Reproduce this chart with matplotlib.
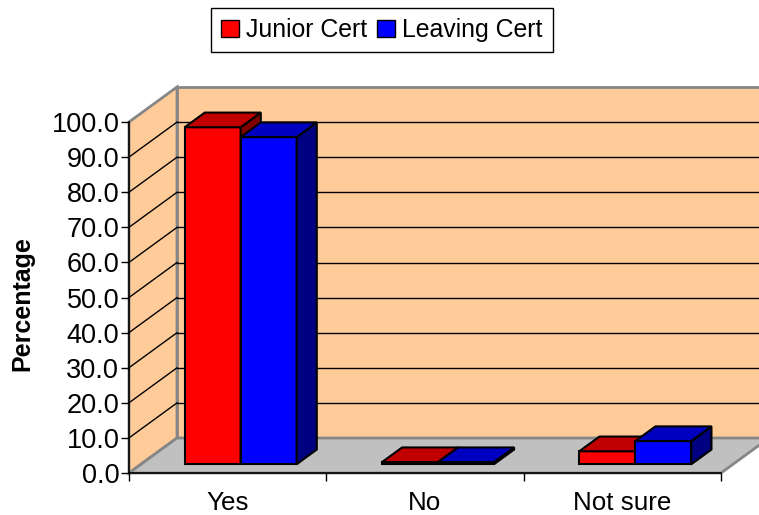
import matplotlib
matplotlib.use("Agg")
import matplotlib.pyplot as plt
from matplotlib.patches import Patch, Polygon

categories = ["Yes", "No", "Not sure"]
junior = [96.0, 0.6, 3.7]
leaving = [93.2, 0.6, 6.6]
yticks = [0, 10, 20, 30, 40, 50, 60, 70, 80, 90, 100]

plt.rcParams["font.family"] = ["Liberation Sans", "DejaVu Sans"]

W, H = 759, 515
fig = plt.figure(figsize=(W/100, H/100), dpi=100)
# front plane of the 3D box, in pixels of the figure
left, right, top, bottom = 129, 721, 122, 473
ax = fig.add_axes([left/W, 1-bottom/H, (right-left)/W, (bottom-top)/H])
ax.set_xlim(0, 3)
ax.set_ylim(0, 100)
ax.patch.set_visible(False)

# depth of the box in data units
dx = 48/((right-left)/3)
dy = 35/((bottom-top)/100)
bar_w = 56/((right-left)/3)
gray = "#868686"

def poly(pts, fc, ec="black", lw=1.5, z=2, clip=False):
    p = Polygon(pts, closed=True, facecolor=fc, edgecolor=ec, linewidth=lw,
                zorder=z, joinstyle="miter", clip_on=clip)
    ax.add_patch(p)

# walls and floor
xend = 3 + dx
poly([(0, 0), (dx, dy), (dx, 100+dy), (0, 100)], "#FFCC99", gray, 2, 1)
poly([(dx, dy), (xend, dy), (xend, 100+dy), (dx, 100+dy)], "#FFCC99", gray, 2, 1)
poly([(0, 0), (3, 0), (xend, dy), (dx, dy)], "#C0C0C0", gray, 2, 1)

for v in yticks[1:-1]:
    ax.plot([0, dx], [v, v+dy], color="black", lw=1, zorder=1.5, clip_on=False)
    ax.plot([dx, xend], [v+dy, v+dy], color="black", lw=1, zorder=1.5, clip_on=False)

def bar3d(x0, h, front, side, topc, z):
    # bar stands a little way into the floor and takes about 40% of the depth
    fx, fy = dx*0.27, dy*0.25
    bx, by = dx*0.42, dy*0.42
    x = x0 + fx
    poly([(x, fy), (x+bar_w, fy), (x+bar_w, fy+h), (x, fy+h)], front, z=z)
    poly([(x+bar_w, fy), (x+bar_w+bx, fy+by), (x+bar_w+bx, fy+by+h), (x+bar_w, fy+h)], side, z=z)
    poly([(x, fy+h), (x+bar_w, fy+h), (x+bar_w+bx, fy+by+h), (x+bx, fy+by+h)], topc, z=z)

for i in range(len(categories)):
    c = i + 0.5
    bar3d(c-bar_w, junior[i], "#FF0000", "#800000", "#C00000", 3+i)
    bar3d(c, leaving[i], "#0000FF", "#000080", "#0000C0", 3.5+i)

ax.set_xticks([0, 1, 2, 3])
ax.set_xticklabels([])
ax.set_xticks([0.5, 1.5, 2.5], categories, minor=True, fontsize=18.7)
ax.tick_params(axis="x", which="minor", length=0, pad=13)
ax.tick_params(axis="x", which="major", length=6, width=1)
ax.set_yticks(yticks, ["%.1f" % v for v in yticks], fontsize=19.5)
ax.tick_params(axis="y", length=6, width=1, pad=1)
for s in ["top", "right"]:
    ax.spines[s].set_visible(False)
for s in ["left", "bottom"]:
    ax.spines[s].set_zorder(2.5)
    ax.spines[s].set_linewidth(1.2)

fig.text(22/W, 1-304/H, "Percentage", rotation=90, ha="center", va="center",
         fontsize=18, fontweight="bold")

handles = [Patch(facecolor="#FF0000", edgecolor="black", label="Junior Cert"),
           Patch(facecolor="#0000FF", edgecolor="black", label="Leaving Cert")]
fig.legend(handles=handles, loc="center", bbox_to_anchor=(382/W, 1-30/H), ncol=2,
           fontsize=17.9, fancybox=False, framealpha=1, edgecolor="black",
           handlelength=0.7, handleheight=0.7, handletextpad=0.3, columnspacing=0.4,
           borderpad=0.4, borderaxespad=0)

fig.savefig("out.png", dpi=100)
